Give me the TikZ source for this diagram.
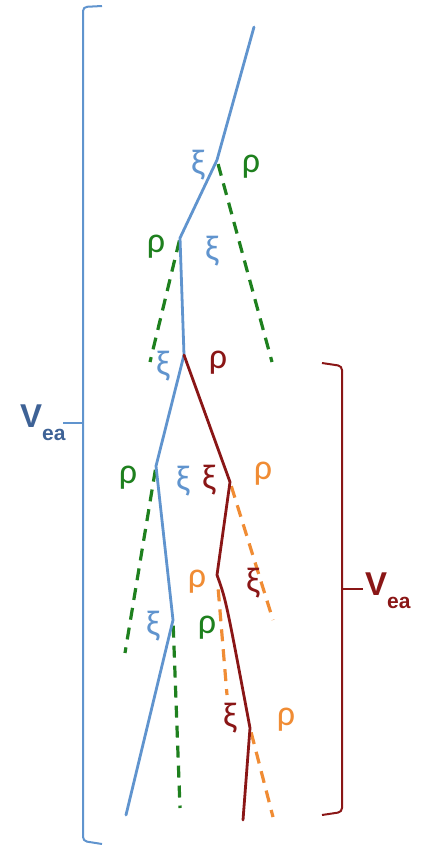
\documentclass[tikz,border=0pt]{standalone}
\usepackage{fontspec}
\setmainfont{Carlito}
\newfontfamily\labelfont{Liberation Sans}
\usetikzlibrary{positioning, calc}

\definecolor{lineblue}{RGB}{96,148,206}
\definecolor{labelblue}{RGB}{62,98,150}
\definecolor{darkred}{RGB}{138,22,22}
\definecolor{darkgreen}{RGB}{30,128,30}
\definecolor{lightorange}{RGB}{240,140,52}

\tikzset{
  branch/.style={line width=2.8pt, line join=round, line cap=round},
  sidedash/.style={line width=3.2pt, dash pattern=on 12pt off 8pt},
  greek/.style={font=\fontsize{36}{36}\selectfont, inner sep=0pt},
  bracket/.style={line width=2pt, rounded corners=4pt},
  veatext/.style={font=\labelfont\bfseries, inner sep=0pt, anchor=base west}
}

\begin{document}
\begin{tikzpicture}[x=1pt, y=-1pt]
    \useasboundingbox (0,0) rectangle (425,846);

    % Points de branchement
    \coordinate (top) at (254,27);
    \coordinate (b1) at (217,160);
    \coordinate (b2) at (180,238);
    \coordinate (b3) at (184,355);
    \coordinate (b4) at (156,466);
    \coordinate (b5) at (173,620);
    \coordinate (bot) at (126,815);
    \coordinate (r1) at (230,482);
    \coordinate (r2) at (217,575);
    \coordinate (r3) at (250,728);
    \coordinate (rbot) at (243,820);

    % Extremites des pointilles
    \coordinate (g1) at (272,362);
    \coordinate (g2) at (150,362);
    \coordinate (g3) at (125,653);
    \coordinate (g4) at (180,808);
    \coordinate (o1) at (273,620);
    \coordinate (o2) at (227,695);
    \coordinate (o3) at (273,817);

    % Pointilles
    \draw[sidedash, darkgreen] ($(b1)!0.02!(g1)$) -- (g1);
    \draw[sidedash, darkgreen] ($(b2)!0.02!(g2)$) -- (g2);
    \draw[sidedash, darkgreen] ($(b4)!0.02!(g3)$) -- (g3);
    \draw[sidedash, darkgreen] ($(b5)!0.03!(g4)$) -- (g4);
    \draw[sidedash, lightorange] ($(r1)!0.03!(o1)$) -- (o1);
    \draw[sidedash, lightorange] ($(r2)!0.12!(o2)$) -- (o2);
    \draw[sidedash, lightorange] ($(r3)!0.05!(o3)$) -- (o3);

    % Branches
    \draw[branch, lineblue] (top) -- (b1) -- (b2) -- (b3) -- (b4) -- (b5) -- (bot);
    \draw[branch, darkred] (b3) -- (r1) -- (r2) .. controls (226,600) .. (r3) -- (rbot);

    % Lettres
    \node[greek, lineblue] (xi1) at (198,165) {ξ};
    \node[greek, darkgreen] (rho1) at (251,167) {ρ};
    \node[greek, darkgreen] (rho2) at (156,247) {ρ};
    \node[greek, lineblue] (xi2) at (212,251) {ξ};
    \node[greek, lineblue] (xi3) at (163,366) {ξ};
    \node[greek, darkred] (rho3) at (218,363) {ρ};
    \node[greek, darkgreen] (rho4) at (128,478) {ρ};
    \node[greek, lineblue] (xi4) at (183,481) {ξ};
    \node[greek, darkred] (xi5) at (209,480) {ξ};
    \node[greek, lightorange] (rho5) at (263,474) {ρ};
    \node[greek, lightorange] (rho6) at (197,582) {ρ};
    \node[greek, darkred] (xi6) at (253,583) {ξ};
    \node[greek, lineblue] (xi7) at (153,626) {ξ};
    \node[greek, darkgreen] (rho7) at (207,628) {ρ};
    \node[greek, darkred] (xi8) at (230,718) {ξ};
    \node[greek, lightorange] (rho8) at (286,720) {ρ};

    % Accolades
    \draw[bracket, lineblue] (102,6) -- (83,7) -- (83,841) -- (102,844);
    \coordinate (bluetick) at (83,423);
    \draw[line width=2pt, lineblue] (bluetick) -- ++(-20,0) coordinate (bluetickend);
    \draw[bracket, darkred] (322,363) -- (342,366) -- (342,812) -- (322,815);
    \coordinate (redtick) at (342,589);
    \draw[line width=2pt, darkred] (redtick) -- ++(21,0) coordinate (redtickend);

    \node[veatext, labelblue] (veablue) at ($(bluetickend)+(-43,4)$)
        {\fontsize{33}{33}\selectfont V\raisebox{-13pt}{\fontsize{21}{21}\selectfont ea}};
    \node[veatext, darkred] (veared) at ($(redtickend)+(2,6)$)
        {\fontsize{33}{33}\selectfont V\raisebox{-13pt}{\fontsize{21}{21}\selectfont ea}};
\end{tikzpicture}
\end{document}
